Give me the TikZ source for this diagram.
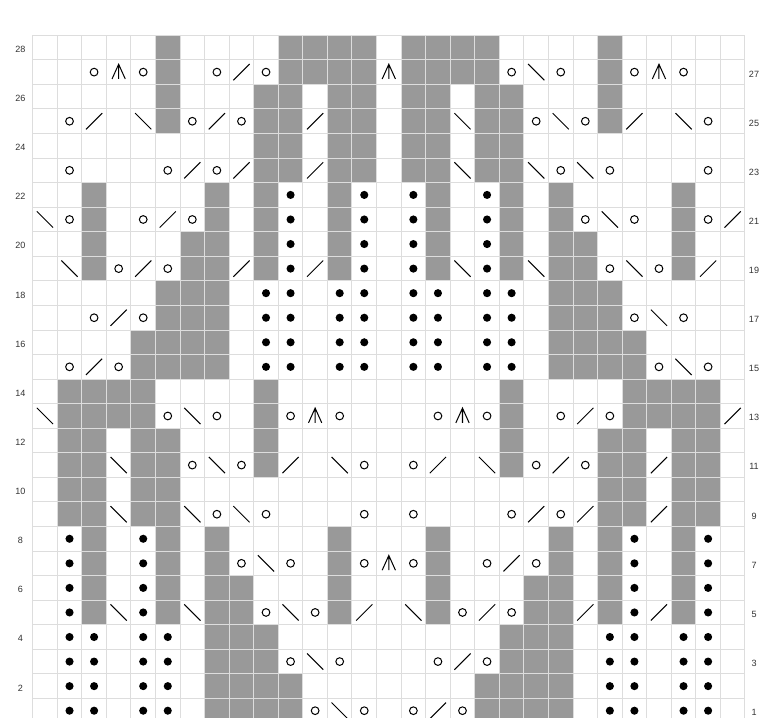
\documentclass[tikz,border=0pt]{standalone}
\usepackage{fontspec}
\setmainfont{Liberation Sans}
\definecolor{nsgrey}{HTML}{999999}
\definecolor{gridgrey}{HTML}{DDDDDD}
\definecolor{labgrey}{HTML}{333333}
\tikzset{
  nsfill/.style={fill=nsgrey},
  gridline/.style={draw=gridgrey, line width=0.7pt},
  symline/.style={draw=black, line width=0.7pt},
  rowlab/.style={font=\fontsize{6.3}{7}\selectfont, text=labgrey, inner sep=0pt}
}
% cell symbols: #1 = column, #2 = row
\def\stE#1#2{}
\def\stG#1#2{\fill[nsfill] (#1-1,#2-1) rectangle (#1,#2);}
\def\stO#1#2{\draw[symline] (#1-0.5,#2-0.5) circle (0.157);}
\def\stL#1#2{\draw[symline] (#1-0.83,#2-0.83) -- (#1-0.17,#2-0.17);}
\def\stR#1#2{\draw[symline] (#1-0.83,#2-0.17) -- (#1-0.17,#2-0.83);}
\def\stC#1#2{\draw[symline] (#1-0.77,#2-0.78) -- (#1-0.5,#2-0.18) -- (#1-0.23,#2-0.78) (#1-0.5,#2-0.18) -- (#1-0.5,#2-0.78);}
\def\stP#1#2{\fill[black] (#1-0.5,#2-0.5) circle (0.165);}
\newcommand\knitrow[2]{\foreach \ks [count=\kc] in {#2} {\csname st\ks\endcsname{\kc}{#1}}}
\begin{document}
\begin{tikzpicture}[scale=0.6]
\clip (-1.331,0.203) rectangle (29.613,29.437);
\fill[white] (-1.331,0.203) rectangle (29.613,29.437);
\knitrow{28}{E,E,E,E,E,G,E,E,E,E,G,G,G,G,E,G,G,G,G,E,E,E,E,G,E,E,E,E,E}
\knitrow{27}{E,E,O,C,O,G,E,O,L,O,G,G,G,G,C,G,G,G,G,O,R,O,E,G,O,C,O,E,E}
\knitrow{26}{E,E,E,E,E,G,E,E,E,G,G,E,G,G,E,G,G,E,G,G,E,E,E,G,E,E,E,E,E}
\knitrow{25}{E,O,L,E,R,G,O,L,O,G,G,L,G,G,E,G,G,R,G,G,O,R,O,G,L,E,R,O,E}
\knitrow{24}{E,E,E,E,E,E,E,E,E,G,G,E,G,G,E,G,G,E,G,G,E,E,E,E,E,E,E,E,E}
\knitrow{23}{E,O,E,E,E,O,L,O,L,G,G,L,G,G,E,G,G,R,G,G,R,O,R,O,E,E,E,O,E}
\knitrow{22}{E,E,G,E,E,E,E,G,E,G,P,E,G,P,E,P,G,E,P,G,E,G,E,E,E,E,G,E,E}
\knitrow{21}{R,O,G,E,O,L,O,G,E,G,P,E,G,P,E,P,G,E,P,G,E,G,O,R,O,E,G,O,L}
\knitrow{20}{E,E,G,E,E,E,G,G,E,G,P,E,G,P,E,P,G,E,P,G,E,G,G,E,E,E,G,E,E}
\knitrow{19}{E,R,G,O,L,O,G,G,L,G,P,L,G,P,E,P,G,R,P,G,R,G,G,O,R,O,G,L,E}
\knitrow{18}{E,E,E,E,E,G,G,G,E,P,P,E,P,P,E,P,P,E,P,P,E,G,G,G,E,E,E,E,E}
\knitrow{17}{E,E,O,L,O,G,G,G,E,P,P,E,P,P,E,P,P,E,P,P,E,G,G,G,O,R,O,E,E}
\knitrow{16}{E,E,E,E,G,G,G,G,E,P,P,E,P,P,E,P,P,E,P,P,E,G,G,G,G,E,E,E,E}
\knitrow{15}{E,O,L,O,G,G,G,G,E,P,P,E,P,P,E,P,P,E,P,P,E,G,G,G,G,O,R,O,E}
\knitrow{14}{E,G,G,G,G,E,E,E,E,G,E,E,E,E,E,E,E,E,E,G,E,E,E,E,G,G,G,G,E}
\knitrow{13}{R,G,G,G,G,O,R,O,E,G,O,C,O,E,E,E,O,C,O,G,E,O,L,O,G,G,G,G,L}
\knitrow{12}{E,G,G,E,G,G,E,E,E,G,E,E,E,E,E,E,E,E,E,G,E,E,E,G,G,E,G,G,E}
\knitrow{11}{E,G,G,R,G,G,O,R,O,G,L,E,R,O,E,O,L,E,R,G,O,L,O,G,G,L,G,G,E}
\knitrow{10}{E,G,G,E,G,G,E,E,E,E,E,E,E,E,E,E,E,E,E,E,E,E,E,G,G,E,G,G,E}
\knitrow{9}{E,G,G,R,G,G,R,O,R,O,E,E,E,O,E,O,E,E,E,O,L,O,L,G,G,L,G,G,E}
\knitrow{8}{E,P,G,E,P,G,E,G,E,E,E,E,G,E,E,E,G,E,E,E,E,G,E,G,P,E,G,P,E}
\knitrow{7}{E,P,G,E,P,G,E,G,O,R,O,E,G,O,C,O,G,E,O,L,O,G,E,G,P,E,G,P,E}
\knitrow{6}{E,P,G,E,P,G,E,G,G,E,E,E,G,E,E,E,G,E,E,E,G,G,E,G,P,E,G,P,E}
\knitrow{5}{E,P,G,R,P,G,R,G,G,O,R,O,G,L,E,R,G,O,L,O,G,G,L,G,P,L,G,P,E}
\knitrow{4}{E,P,P,E,P,P,E,G,G,G,E,E,E,E,E,E,E,E,E,G,G,G,E,P,P,E,P,P,E}
\knitrow{3}{E,P,P,E,P,P,E,G,G,G,O,R,O,E,E,E,O,L,O,G,G,G,E,P,P,E,P,P,E}
\knitrow{2}{E,P,P,E,P,P,E,G,G,G,G,E,E,E,E,E,E,E,G,G,G,G,E,P,P,E,P,P,E}
\knitrow{1}{E,P,P,E,P,P,E,G,G,G,G,O,R,O,E,O,L,O,G,G,G,G,E,P,P,E,P,P,E}
% grid
\foreach \gi in {0,...,29} {\draw[gridline] (\gi,0) -- (\gi,28);}
\foreach \gj in {0,...,28} {\draw[gridline] (0,\gj) -- (29,\gj);}
% row numbers
\foreach \rr in {2,4,...,28} {\node[rowlab] (L\rr) at (-0.5,\rr-0.57) {\rr};}
\foreach \rr in {1,3,...,27} {\node[rowlab] (R\rr) at (29.37,\rr-0.57) {\rr};}
\end{tikzpicture}
\end{document}
